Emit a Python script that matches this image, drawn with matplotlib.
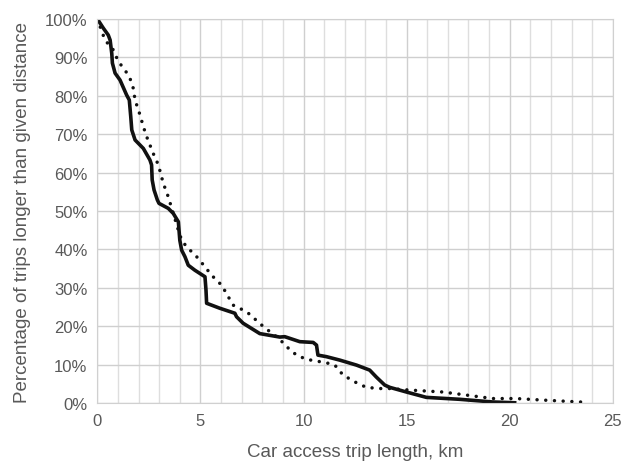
import matplotlib
matplotlib.use('Agg')
from matplotlib import pyplot as plt
from matplotlib.ticker import MultipleLocator, PercentFormatter

# solid curve: trip length (km) vs share of trips longer (%)
solid_km = [0, 0.29, 0.53, 0.62, 0.7, 0.73, 0.86, 1.1, 1.42, 1.55, 1.62, 1.67, 1.83,
            2.23, 2.55, 2.63, 2.66, 2.75, 2.91, 2.99, 3.44, 3.68, 3.93, 4.0, 4.09,
            4.25, 4.41, 4.73, 5.22, 5.27, 5.3, 5.94, 6.67, 6.75, 7.07, 7.88, 8.85,
            9.09, 9.82, 10.47, 10.63, 10.7, 11.11, 11.76, 12.57, 13.21, 13.53, 13.94,
            14.19, 14.99, 15.96, 17.57, 19.18, 20.24]
solid_pct = [100, 97.6, 95.8, 94.5, 91, 88.5, 85.9, 84.1, 80.2, 78.9, 74.6, 71.1, 68.5,
             66.3, 63.3, 62, 58.1, 55.5, 52.9, 52, 50.7, 49.4, 47.2, 42.4, 39.8,
             38.1, 35.9, 34.6, 32.9, 29.4, 26, 24.7, 23.4, 22.5, 20.8, 18.1, 17.2,
             17.3, 16, 15.8, 15.1, 12.5, 12.1, 11.2, 9.9, 8.6, 6.8, 4.7,
             4.1, 2.9, 1.5, 1.0, 0.3, 0.1]

# dotted curve
dot_km = [0, 0.37, 0.78, 1.02, 1.34, 1.58, 1.74, 1.83, 2.07, 2.23, 2.39, 2.71, 2.96,
          3.2, 3.44, 3.68, 3.93, 4.09, 4.33, 4.82, 5.22, 5.54, 6.03, 6.35, 6.59, 7.24,
          8.04, 8.37, 8.85, 9.18, 9.66, 10.15, 11.11, 11.52, 11.92, 12.57, 13.05,
          13.7, 14.19, 15.15, 16.76, 17.9, 19.18, 20.3, 21.6, 23.8]
dot_pct = [100, 94.5, 91.9, 88.9, 86.7, 84.6, 82, 78.9, 75, 72, 69.4, 65, 62,
           57.2, 53.7, 49.4, 45, 42.4, 40.7, 38.1, 35.5, 33.3, 30.7, 27.7, 25.5, 23.8,
           20, 18.6, 16.6, 14.7, 12.5, 11.4, 10.5, 9.9, 7.3, 5.3, 4.1,
           3.8, 3.8, 3.4, 2.9, 2.1, 1.2, 1.2, 0.8, 0.2]

plt.rcParams['font.family'] = ['Liberation Sans', 'DejaVu Sans']

fig = plt.figure(figsize=(6.24, 4.64), dpi=100)
ax = fig.add_axes([0.156, 0.129, 0.826, 0.828])

ax.plot(dot_km, dot_pct, color='#111111', linewidth=2.5,
        linestyle=(0, (0.01, 2.5)), dash_capstyle='round')
ax.plot(solid_km, solid_pct, color='#111111', linewidth=2.6)

ax.set_xlim(0, 25)
ax.set_ylim(0, 100)
ax.xaxis.set_major_locator(MultipleLocator(5))
ax.xaxis.set_minor_locator(MultipleLocator(1))
ax.yaxis.set_major_locator(MultipleLocator(10))
ax.yaxis.set_major_formatter(PercentFormatter(decimals=0))

ax.grid(which='major', color='#cfcfcf', linewidth=1)
ax.grid(which='minor', axis='x', color='#dedede', linewidth=1)
ax.set_axisbelow(True)
for s in ax.spines.values():
    s.set_color('#d0d0d0')
ax.tick_params(which='both', length=0, labelsize=12, colors='#595959', pad=7)

ax.set_xlabel('Car access trip length, km', fontsize=13.5, color='#595959', labelpad=11)
ax.set_ylabel('Percentage of trips longer than given distance', fontsize=13.5,
              color='#595959', labelpad=10)

plt.savefig('out.png', dpi=100)
